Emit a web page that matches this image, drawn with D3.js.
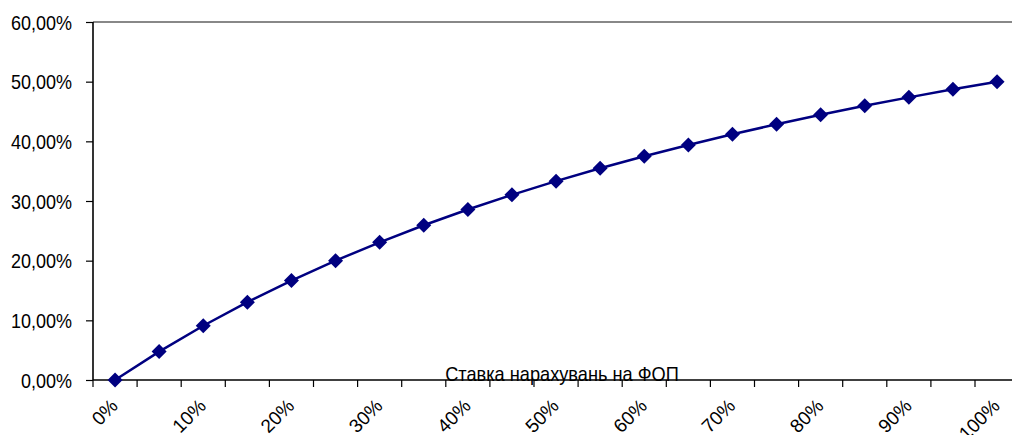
<!DOCTYPE html>
<html>
<head>
<meta charset="utf-8">
<script src="https://cdn.jsdelivr.net/npm/d3@7/dist/d3.min.js"></script>
<style>
  html, body { margin: 0; padding: 0; background: #fff; }
  svg { display: block; }
  text { font-family: "Liberation Sans", Arial, sans-serif; fill: #000; }
</style>
</head>
<body>
<svg id="chart" width="1012" height="435"></svg>
<script>
// Payroll accrual rate (categories) and resulting share (%)
const categories = ["0%","5%","10%","15%","20%","25%","30%","35%","40%","45%","50%",
                    "55%","60%","65%","70%","75%","80%","85%","90%","95%","100%"];
const values = [0, 4.76, 9.09, 13.04, 16.67, 20.00, 23.08, 25.93, 28.57, 31.03, 33.33,
                35.48, 37.50, 39.39, 41.18, 42.86, 44.44, 45.95, 47.37, 48.72, 50.00];
const yTicks = [0, 10, 20, 30, 40, 50, 60];
const xLabelCategories = ["0%","10%","20%","30%","40%","50%","60%","70%","80%","90%","100%"];
const axisTitle = "Ставка нарахувань на ФОП";

const svg = d3.select("#chart");
const plotLeft = 93, plotTop = 22, plotBottom = 380, step = 44.1;
const plotRight = plotLeft + step * categories.length;

const x = d3.scaleBand().domain(categories).range([plotLeft, plotRight]).paddingInner(0).paddingOuter(0);
const y = d3.scaleLinear().domain([0, 60]).range([plotBottom, plotTop]);
const fmt = v => v.toFixed(2).replace(".", ",") + "%";

// top border of plot area
svg.append("line")
  .attr("x1", plotLeft).attr("x2", 1012)
  .attr("y1", y(60)).attr("y2", y(60))
  .attr("stroke", "#888").attr("stroke-width", 2);

// y axis
const yAxis = svg.append("g")
  .attr("transform", `translate(${plotLeft},0)`)
  .call(d3.axisLeft(y).tickValues(yTicks).tickFormat(fmt).tickSize(7).tickPadding(14));
yAxis.select(".domain").attr("stroke", "#000").attr("stroke-width", 1.6)
  .attr("d", `M0,${y(60)}V${y(0)}`);
yAxis.selectAll(".tick line").attr("stroke", "#000").attr("stroke-width", 1.2);
yAxis.selectAll(".tick text")
  .attr("x", null)
  .attr("transform", "translate(-21,0) scale(0.9,1)")
  .style("font-family", '"Liberation Sans", Arial, sans-serif')
  .style("font-size", "20px").attr("fill", "#000").attr("dy", "0.35em");

// x axis: ticks at category boundaries
const xg = svg.append("g");
xg.append("line")
  .attr("x1", plotLeft).attr("x2", 1012)
  .attr("y1", plotBottom).attr("y2", plotBottom)
  .attr("stroke", "#000").attr("stroke-width", 1.6);
const boundaries = categories.map(c => x(c)).concat([x(categories[categories.length - 1]) + x.bandwidth()]);
xg.selectAll("line.tick").data(boundaries).join("line")
  .attr("class", "tick")
  .attr("x1", d => d).attr("x2", d => d)
  .attr("y1", plotBottom).attr("y2", plotBottom + 7)
  .attr("stroke", "#000").attr("stroke-width", 1.2);
xg.selectAll("text.xl").data(xLabelCategories).join("text")
  .attr("class", "xl")
  .attr("transform", d => `translate(${x(d) + x.bandwidth() / 2 + 4},${plotBottom + 27}) rotate(-45)`)
  .attr("text-anchor", "end")
  .style("font-size", "19px")
  .text(d => d);

// axis title
svg.append("text")
  .attr("transform", `translate(562,${plotBottom + 1}) scale(0.91,1)`)
  .attr("text-anchor", "middle")
  .style("font-size", "20px")
  .text(axisTitle);

// series line
const pts = categories.map((c, i) => [x(c) + x.bandwidth() / 2, y(values[i])]);
svg.append("path")
  .attr("d", d3.line()(pts))
  .attr("fill", "none").attr("stroke", "#000080").attr("stroke-width", 2.5);

// diamond markers
svg.selectAll("path.mk").data(pts).join("path")
  .attr("class", "mk")
  .attr("transform", d => `translate(${d[0]},${d[1]})`)
  .attr("d", "M0,-7.5L7.5,0L0,7.5L-7.5,0Z")
  .attr("fill", "#000080");
</script>
</body>
</html>
